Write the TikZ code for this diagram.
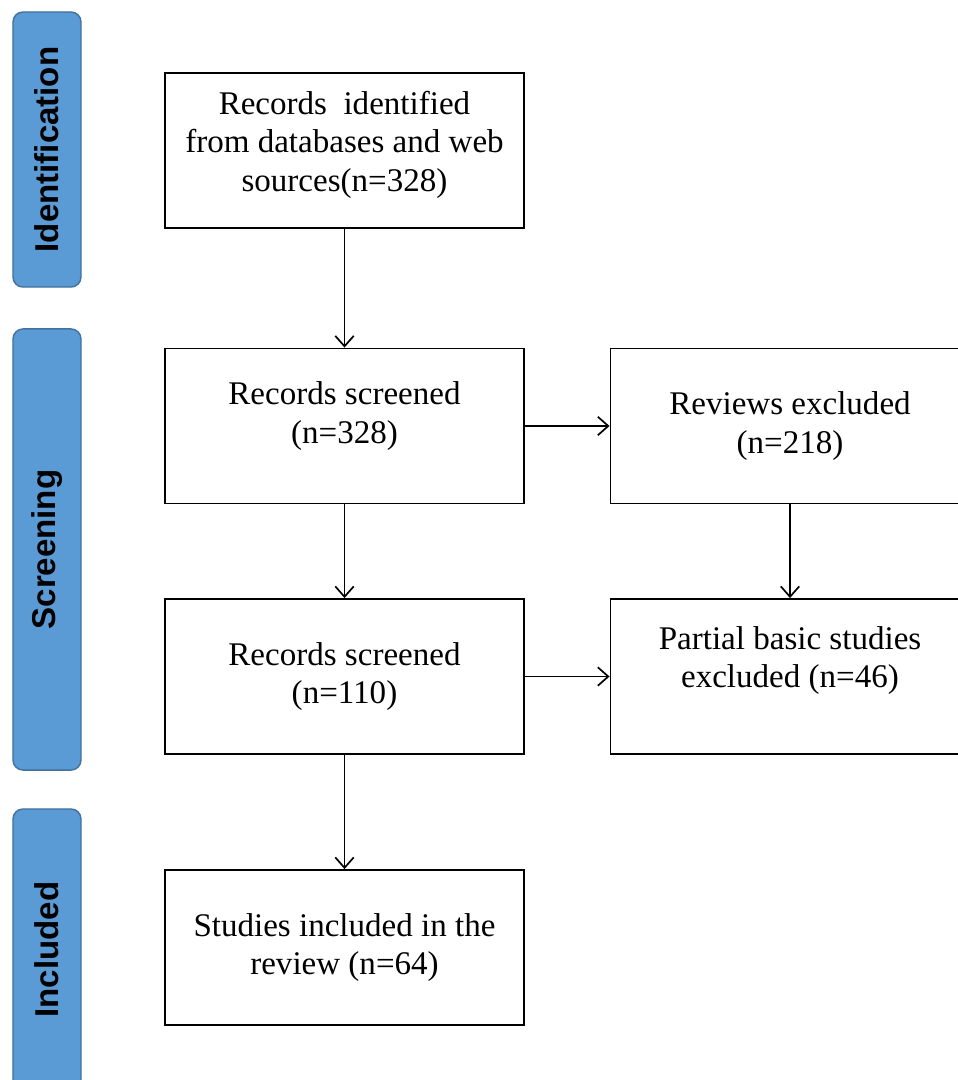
\documentclass[tikz,border=0pt]{standalone}
\usepackage{fontspec}
\setmainfont{Liberation Serif}
\newfontfamily\stagefont{Liberation Sans}
\usetikzlibrary{arrows.meta,positioning}
\definecolor{barblue}{HTML}{5B9BD5}
\definecolor{barline}{HTML}{41719C}

\begin{document}
\begin{tikzpicture}[x=0.025cm, y=-0.025cm,
                    box/.style={draw, line width=1.3pt, minimum width=8.975cm,
                                minimum height=3.875cm, align=center,
                                font=\fontsize{23.5}{27.5}\selectfont},
                    stage/.style={draw=barline, fill=barblue, line width=1pt,
                                  rounded corners=0.25cm, rotate=90, minimum height=1.7cm,
                                  font=\stagefont\bfseries\fontsize{23.5}{27}\selectfont},
                    arrow/.style={draw, line width=1.2pt, -{Straight Barb[length=2.6mm,width=4.6mm]}}]
   \useasboundingbox (0,0) rectangle (958,1080);
   \clip (0,0) rectangle (958,1080);

   % stages on the left
   \node[stage, minimum width=6.875cm]  (identification) at (47,149.5) {Identification};
   \node[stage, minimum width=11.025cm] (screening)      at (47,549.5) {Screening};
   \node[stage, minimum width=7.025cm]  (included)       at (47,949.5) {Included};

   % boxes
   \node[box] (identified)   at (344.5,150.5) {Records\ \ identified\\from databases and web\\sources(n=328)\\[-0.5cm]};
   \node[box] (screened_a)   at (344.5,426)   {Records screened\\(n=328)\\[-0.3cm]};
   \node[box] (reviews)      at (790,426)     {Reviews excluded\\(n=218)};
   \node[box] (screened_b)   at (344.5,676.5) {Records screened\\(n=110)};
   \node[box] (partial)      at (790,676.5)   {Partial basic studies\\ excluded (n=46)\\[0cm]};
   \node[box] (studies)      at (344.5,947.5) {Studies included in the\\review (n=64)};

   % arrows
   \draw[arrow] (identified) -- (screened_a);
   \draw[arrow] (screened_a) -- (screened_b);
   \draw[arrow] (screened_a) -- (reviews);
   \draw[arrow] (reviews)    -- (partial);
   \draw[arrow] (screened_b) -- (studies);
   \draw[arrow] (screened_b) -- (partial);

\end{tikzpicture}
\end{document}
